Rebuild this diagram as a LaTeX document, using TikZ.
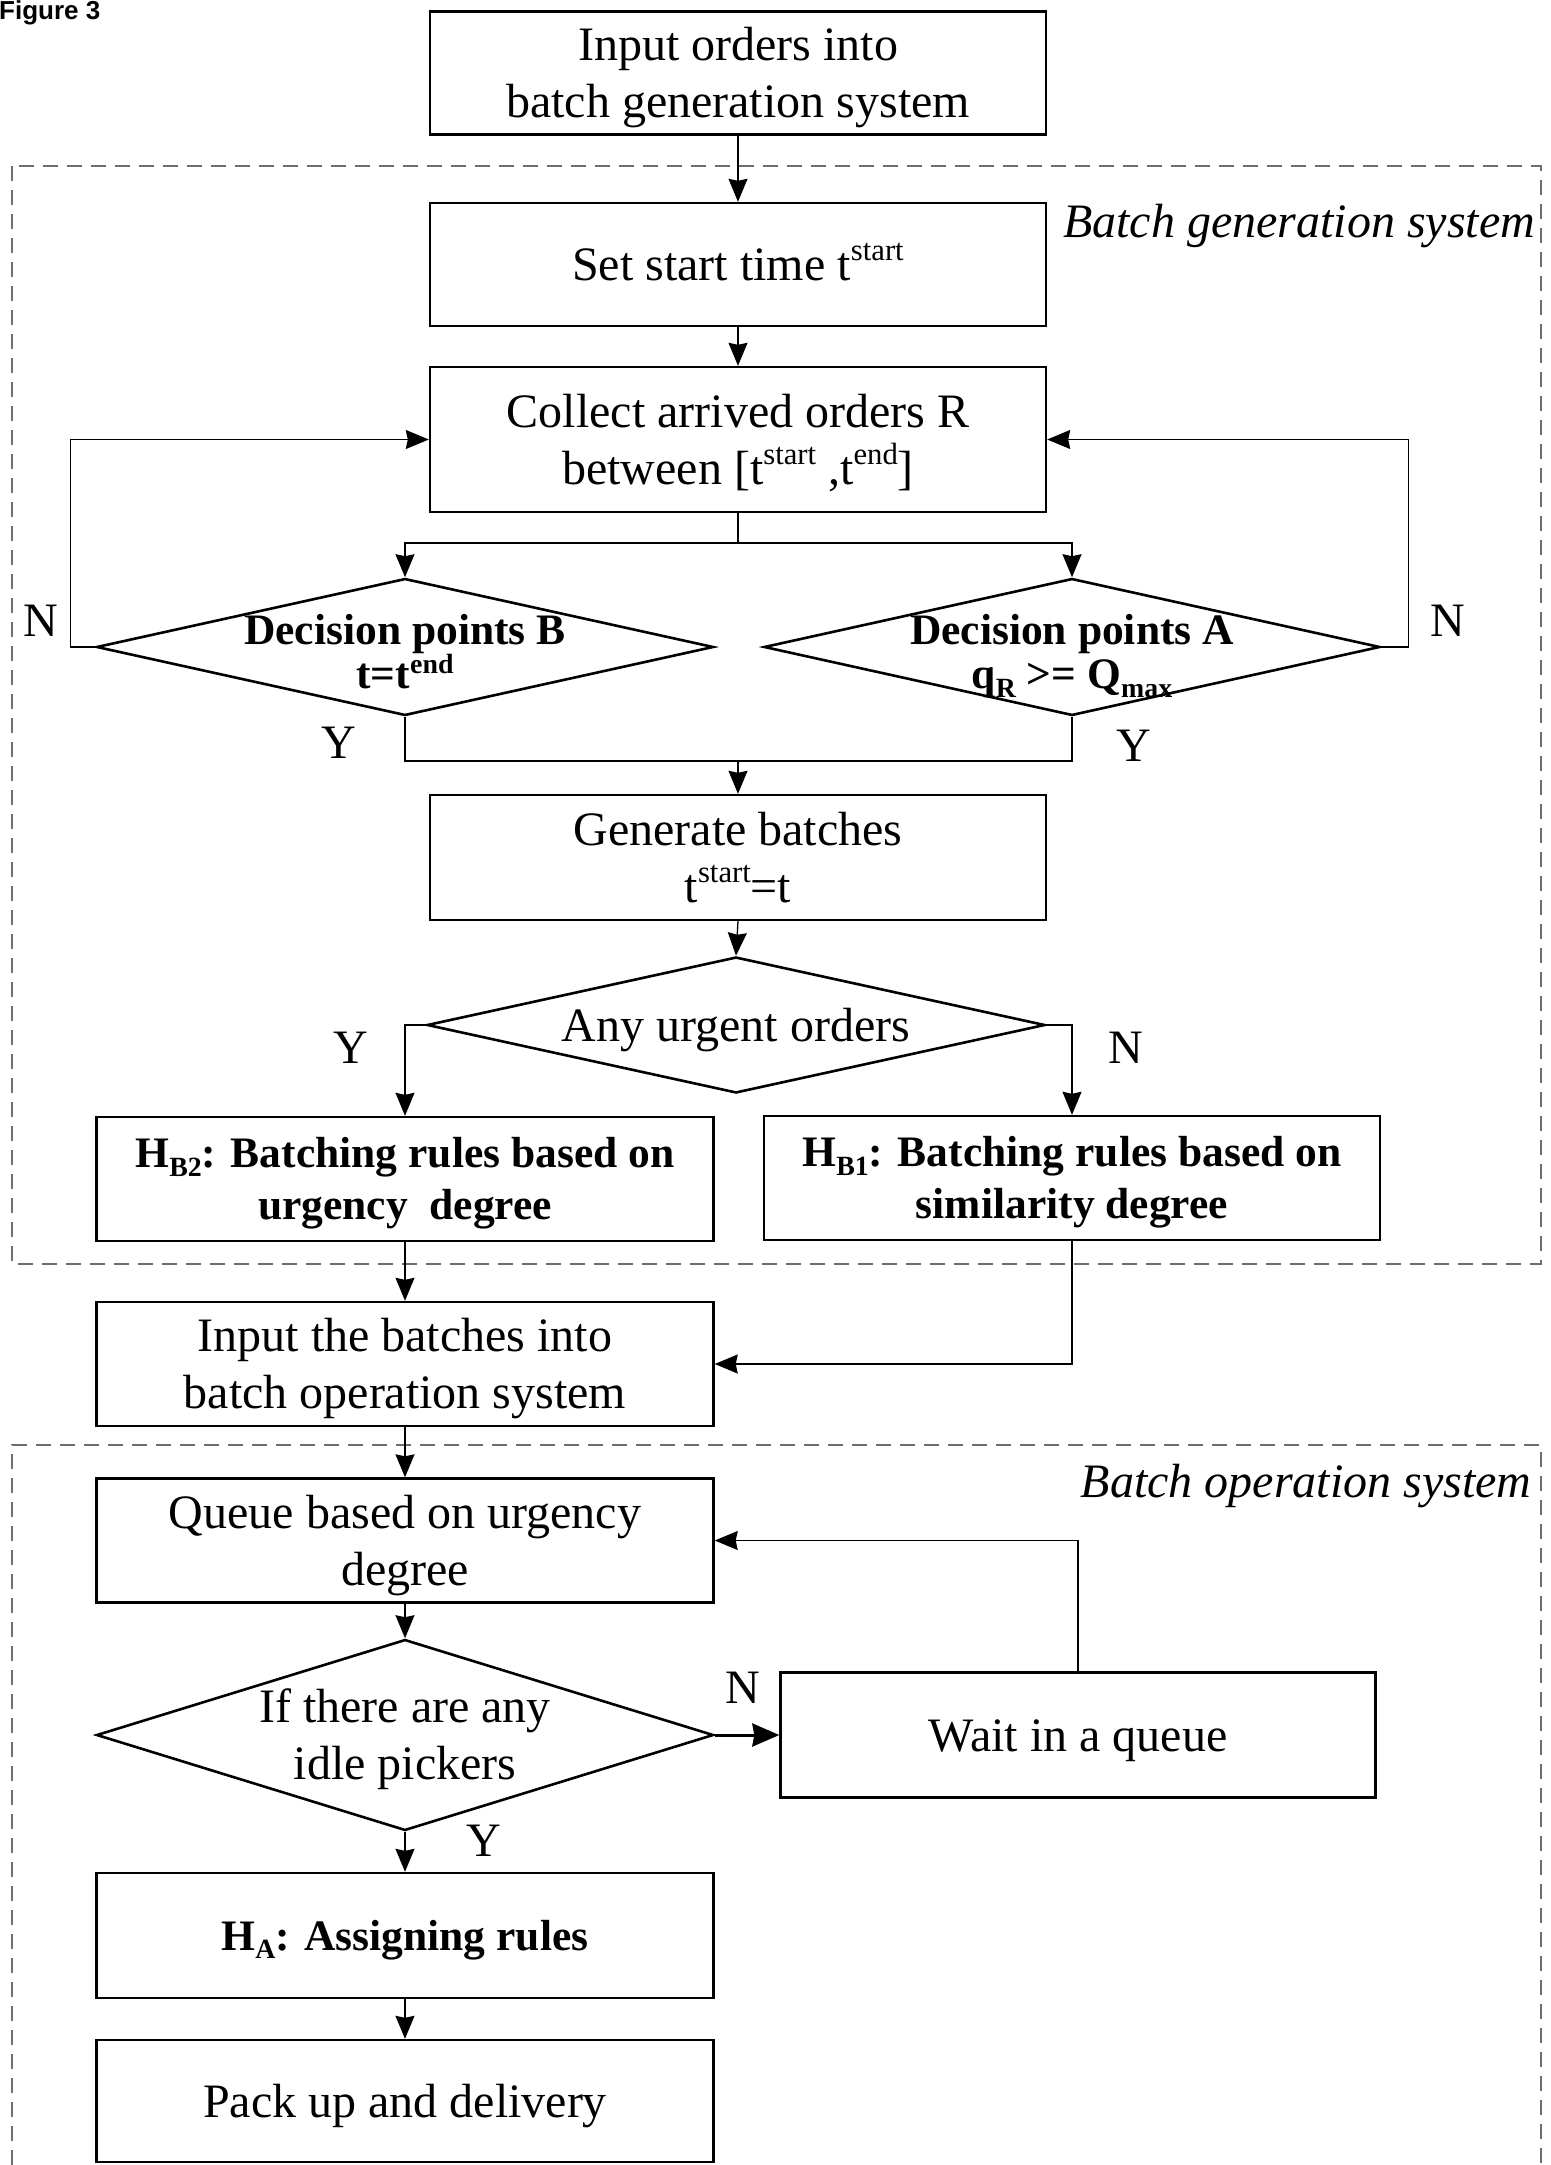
\documentclass[tikz,border=0pt]{standalone}
\usepackage{fontspec}
\setmainfont{Liberation Serif}
\newfontfamily\figfont{Liberation Sans}
\usetikzlibrary{shapes.geometric,arrows.meta}
\newcommand\regf{\fontsize{48}{57}\selectfont}
\newcommand\boldf{\fontsize{43.5}{52.5}\selectfont\bfseries}
\newcommand\dboldf{\fontsize{43.5}{44}\selectfont\bfseries\lineskiplimit=-100pt}
\newcommand\vs{\rule[-0.216em]{0pt}{1.107em}}
\newcommand\supx[1]{\raisebox{0.42em}{\scalebox{0.64}{#1}}}
\newcommand\supy[1]{\raisebox{0.34em}{\scalebox{0.64}{#1}}}
\newcommand\subx[1]{\raisebox{-0.2em}{\scalebox{0.64}{#1}}}
\definecolor{dashgray}{RGB}{110,110,110}
\begin{document}
\begin{tikzpicture}[x=1pt,y=-1pt,
  procbox/.style={draw, line width=2.4pt, minimum width=616pt, inner sep=0pt, align=center, font=\regf},
  boldbox/.style={procbox, font=\boldf},
  decision/.style={draw, diamond, line width=2.6pt, inner sep=0pt, minimum width=617pt},
  dtxt/.style={inner sep=0pt, align=center, font=\dboldf},
  rtxt/.style={inner sep=0pt, align=center, font=\regf},
  lbl/.style={inner sep=0pt, font=\regf},
  conn/.style={line width=1.3pt},
  arr/.style={line width=1.3pt, -{Stealth[length=23pt,width=19pt,inset=2pt]}},
  thickarr/.style={line width=3pt, -{Stealth[length=27pt,width=23pt,inset=2pt]}},
  dashframe/.style={draw=dashgray, line width=1.5pt, dash pattern=on 15pt off 9pt},
  region/.style={inner sep=0pt, font=\regf\itshape}
]
\useasboundingbox (0,0) rectangle (1550,2165);

% dashed frames
\draw[dashframe] (12,166) rectangle (1541,1264);
\draw[dashframe] (12,2165) -- (12,1445) -- (1541,1445) -- (1541,2165);

\node[region] (rg1) at (1299,221) {\vs Batch generation system\vs};
\node[region] (rg2) at (1306,1481) {\vs Batch operation system\vs};

\node[anchor=base west, inner sep=0pt, font=\figfont\bfseries\fontsize{26}{30}\selectfont] (fig) at (-1,20) {Figure 3};

% boxes
\node[procbox, minimum height=123pt] (in1) at (738,73) {\vs Input orders into\\batch generation system\vs};
\node[procbox, minimum height=123pt] (set) at (738,264.5) {\vs Set start time t\supx{start}\vs};
\node[procbox, minimum height=145pt] (coll) at (738,439.5) {\vs Collect arrived orders R\\between [t\supx{start} ,t\supx{end}]\vs};

\node[decision, minimum height=137pt] (decB) at (405,647) {};
\node[dtxt, yshift=-5pt] (decBt) at (decB) {\vs Decision points B\\t=t\supy{end}\vs};
\node[decision, minimum height=137pt, minimum width=616pt] (decA) at (1072,647) {};
\node[dtxt, yshift=-5pt] (decAt) at (decA) {\vs Decision points A\\q\subx{R} >= Q\subx{max}\vs};

\node[procbox, minimum height=125pt] (gen) at (738,857.5) {\vs Generate batches\\t\supx{start}=t\vs};

\node[decision, minimum height=136pt, minimum width=618pt] (urg) at (736,1025) {};
\node[rtxt] (urgt) at (urg) {\vs Any urgent orders\vs};

\node[boldbox, minimum height=124pt, minimum width=617pt] (hb2) at (405,1179) {\vs H\subx{B2}: Batching rules based on\\urgency~ degree\vs};
\node[boldbox, minimum height=124pt] (hb1) at (1072,1178) {\vs H\subx{B1}: Batching rules based on\\similarity degree\vs};

\node[procbox, minimum height=124pt, minimum width=617pt] (inb) at (405,1364) {\vs Input the batches into\\batch operation system\vs};
\node[procbox, minimum height=124pt, minimum width=617pt] (queue) at (405,1540.5) {\vs Queue based on urgency\\degree\vs};

\node[decision, minimum height=191pt] (idle) at (405,1735) {};
\node[rtxt] (idlet) at (idle) {\vs If there are any\\idle pickers\vs};

\node[procbox, minimum height=125pt, minimum width=595pt] (wait) at (1078,1735) {\vs Wait in a queue\vs};
\node[boldbox, minimum height=125pt, minimum width=617pt] (ha) at (405,1935.5) {\vs H\subx{A}: Assigning rules\vs};
\node[procbox, minimum height=122pt, minimum width=617pt] (pack) at (405,2101) {\vs Pack up and delivery\vs};

% coordinates
\coordinate (split) at (738,543);
\coordinate (merge) at (738,761);
\coordinate (mB) at (405,761);
\coordinate (mA) at (1072,761);

% connectors
\draw[arr] (in1.south) -- (set.north);
\draw[arr] (set.south) -- (coll.north);
\draw[conn] (coll.south) -- (split);
\draw[arr] (split) -| (decB.north);
\draw[arr] (split) -| (decA.north);
\draw[arr] (decB.west) -- ++(-25,0) |- (coll.west);
\draw[arr] (decA.east) -- ++(27,0) |- (coll.east);
\draw[conn] (decB.south) -- (mB) -- (mA) -- (decA.south);
\draw[arr] (merge) -- (gen.north);
\draw[arr] (gen.south) -- (urg.north);
\draw[arr] (urg.west) -| (hb2.north);
\draw[arr] (urg.east) -| (hb1.north);
\draw[arr] (hb2.south) -- (inb.north);
\draw[arr] (hb1.south) |- (inb.east);
\draw[arr] (inb.south) -- (queue.north);
\draw[arr] (queue.south) -- (idle.north);
\draw[thickarr] (idle.east) -- (wait.west);
\draw[arr] (wait.north) |- (queue.east);
\draw[arr] (idle.south) -- (ha.north);
\draw[arr] (ha.south) -- (pack.north);

% Y/N labels
\node[lbl] (nB) at (41,620) {\vs N\vs};
\node[lbl] (nA) at (1448,620) {\vs N\vs};
\node[lbl] (yB) at (339,742) {\vs Y\vs};
\node[lbl] (yA) at (1134,745) {\vs Y\vs};
\node[lbl] (yU) at (351,1047) {\vs Y\vs};
\node[lbl] (nU) at (1126,1047) {\vs N\vs};
\node[lbl] (nI) at (743,1687) {\vs N\vs};
\node[lbl] (yI) at (484,1840) {\vs Y\vs};
\end{tikzpicture}
\end{document}
